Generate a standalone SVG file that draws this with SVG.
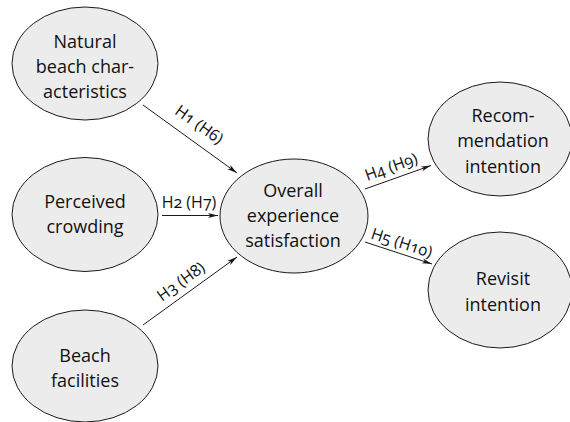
<svg xmlns="http://www.w3.org/2000/svg" width="570" height="422" viewBox="0 0 570 422">
<style>
.n ellipse{fill:#ececec;stroke:#1a1a1a;stroke-width:1}
.n text{font-family:"Open Sans","Noto Sans","Liberation Sans",sans-serif;font-size:18px;fill:#111111;text-anchor:middle}
.c line{stroke:#1a1a1a;stroke-width:1;marker-end:url(#ah)}
.c text{font-family:"Open Sans","Noto Sans","Liberation Sans",sans-serif;font-size:16px;fill:#111111;text-anchor:middle;font-variant-numeric:oldstyle-nums}
</style>
<defs>
<marker id="ah" viewBox="0 0 10 6" refX="10" refY="3" markerWidth="10" markerHeight="6" markerUnits="userSpaceOnUse" orient="auto">
<path d="M0,0.5 L10,3 L0,5.5 L2.5,3 Z" fill="#1a1a1a"/>
</marker>
</defs>
<rect width="570" height="422" fill="#ffffff"/>
<g class="c" id="connectors">
<line x1="143" y1="105" x2="237" y2="173"/>
<text transform="translate(196,129) rotate(35.5)">H1 (H6)</text>
<line x1="162" y1="215.5" x2="218" y2="215.5"/>
<text x="189" y="208">H2 (H7)</text>
<line x1="143" y1="325" x2="237" y2="257"/>
<text transform="translate(184,286) rotate(-36)">H3 (H8)</text>
<line x1="365" y1="189" x2="431" y2="165.5"/>
<text transform="translate(393,172) rotate(-19.5)">H4 (H9)</text>
<line x1="365" y1="242" x2="432" y2="264"/>
<text transform="translate(400,248) rotate(18)">H5 (H10)</text>
</g>
<g class="n" id="n-natural">
<ellipse cx="85" cy="63.5" rx="73" ry="56.5"/>
<text x="85" y="48">Natural</text>
<text x="85" y="73">beach char-</text>
<text x="85" y="98">acteristics</text>
</g>
<g class="n" id="n-crowding">
<ellipse cx="85" cy="214.5" rx="73" ry="57"/>
<text x="85" y="208">Perceived</text>
<text x="85" y="233">crowding</text>
</g>
<g class="n" id="n-facilities">
<ellipse cx="85" cy="366" rx="73" ry="56"/>
<text x="85" y="362">Beach</text>
<text x="85" y="387">facilities</text>
</g>
<g class="n" id="n-satisfaction">
<ellipse cx="294" cy="216" rx="74" ry="57"/>
<text x="293" y="197">Overall</text>
<text x="293" y="222">experience</text>
<text x="293" y="247">satisfaction</text>
</g>
<g class="n" id="n-recommendation">
<ellipse cx="500" cy="139" rx="72" ry="57"/>
<text x="503" y="122">Recom-</text>
<text x="503" y="147">mendation</text>
<text x="503" y="173">intention</text>
</g>
<g class="n" id="n-revisit">
<ellipse cx="500" cy="290" rx="72" ry="58"/>
<text x="503" y="285">Revisit</text>
<text x="503" y="311">intention</text>
</g>
</svg>
